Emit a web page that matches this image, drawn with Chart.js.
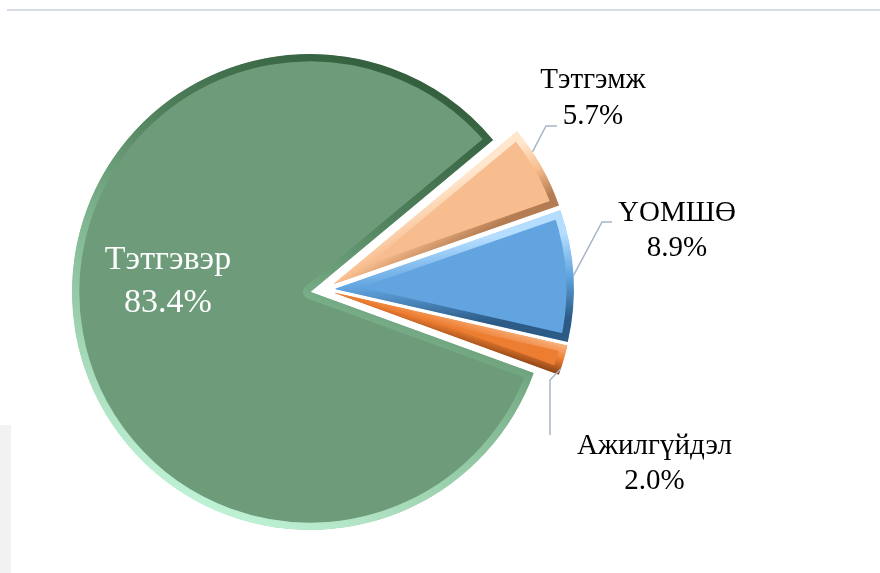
<!DOCTYPE html>
<html>
<head>
<meta charset="utf-8">
<script src="https://cdn.jsdelivr.net/npm/chart.js@4.4.1/dist/chart.umd.min.js"></script>
<style>
    html, body { margin: 0; padding: 0; background: #fff; overflow: hidden; }
    #wrap { position: relative; width: 880px; height: 573px; }
    .top-rule { position: absolute; left: 7px; right: 0; top: 9px; height: 2px; background: #d8dde6; }
    .side-box { position: absolute; left: 0; top: 425px; width: 11px; bottom: 0; background: #f2f2f2; }
    canvas { position: absolute; left: 0; top: 0; }
</style>
</head>
<body>
<div id="wrap">
    <div class="top-rule"></div>
    <div class="side-box"></div>
    <canvas id="pieChart" width="880" height="573"></canvas>
</div>
<script>
// Chart data
const categories = ['Тэтгэвэр', 'Тэтгэмж', 'ҮОМШӨ', 'Ажилгүйдэл'];
const shares = [83.4, 5.7, 8.9, 2.0];

// Look
const fillColors = ['#6e9c7b', '#f8bd8e', '#61a4df', '#ed7d31'];
const bevelColors = [
    ['#2f5a39', '#c6f8dc'],
    ['#ffe6cc', '#b47c52'],
    ['#b4ddff', '#2c5b86'],
    ['#f8b07a', '#8f4516']
];
const exploded = [false, true, true, true];
const ROTATION = 110;
const RADIUS = 238;
const GROUP_SHIFT = 14;
const SLICE_SHIFT = 12;
const SERIF = "'Liberation Serif', 'DejaVu Serif', 'Times New Roman', serif";

// Label placement: block centre relative to pie centre, leader points relative to block centre
const labelStyle = [
    { dx: -142, dy: -10, size: 34, lh: 43, color: '#ffffff', leader: null },
    { dx: 283, dy: -194, size: 29, lh: 36, color: '#000000', at: 0.3, leader: [[-47, 28], [-36, 28]] },
    { dx: 367, dy: -61.5, size: 29, lh: 35, color: '#000000', at: 0.5, leader: [[-75, -8.5], [-65, -8.5]] },
    { dx: 344.5, dy: 171.5, size: 29, lh: 35, color: '#000000', at: 0.8, leader: [[-104.5, -83.5], [-104.5, -28.5]] }
];

const total = shares.reduce((a, b) => a + b, 0);

// angles (canvas radians) of each slice, same as Chart.js computes them
function sliceAngles(i) {
    let start = (ROTATION - 90) * Math.PI / 180;
    for (let k = 0; k < i; k++) start += shares[k] / total * Math.PI * 2;
    return { start, end: start + shares[i] / total * Math.PI * 2 };
}

function bevel(context) {
    const area = context.chart.chartArea;
    if (!area) return fillColors[context.dataIndex];
    const i = context.dataIndex;
    const cx = (area.left + area.right) / 2;
    const cy = (area.top + area.bottom) / 2;
    const g = context.chart.ctx;
    const [c0, c1] = bevelColors[i];
    let grad;
    if (i === 0) {
        grad = g.createLinearGradient(cx + 0.45 * RADIUS, cy - RADIUS, cx - 0.45 * RADIUS, cy + RADIUS);
        grad.addColorStop(0, c0);
        grad.addColorStop(0.3, '#4f7f5b');
        grad.addColorStop(0.55, '#7fb690');
        grad.addColorStop(1, c1);
    } else {
        const { start, end } = sliceAngles(i);
        const mid = (start + end) / 2;
        const px = cx + Math.cos(mid) * RADIUS * 0.55;
        const py = cy + Math.sin(mid) * RADIUS * 0.55;
        const w = RADIUS * 0.55 * Math.sin((end - start) / 2) + 6;
        const nx = -Math.sin(mid), ny = Math.cos(mid);
        grad = g.createLinearGradient(px - nx * w, py - ny * w, px + nx * w, py + ny * w);
        grad.addColorStop(0, c0);
        grad.addColorStop(0.5, fillColors[i]);
        grad.addColorStop(1, c1);
    }
    return grad;
}

// Shift of each slice: whole group of small slices pulled out, plus a little on each one
function sliceShift(arc, i, groupMid) {
    if (!exploded[i]) return { x: 0, y: 0 };
    const mid = (arc.startAngle + arc.endAngle) / 2;
    return {
        x: Math.cos(groupMid) * GROUP_SHIFT + Math.cos(mid) * SLICE_SHIFT,
        y: Math.sin(groupMid) * GROUP_SHIFT + Math.sin(mid) * SLICE_SHIFT
    };
}

const explodePlugin = {
    id: 'explode',
    beforeDatasetDraw(chart, args) {
        const arcs = args.meta.data;
        const group = arcs.filter((a, i) => exploded[i]);
        const groupMid = (group[0].startAngle + group[group.length - 1].endAngle) / 2;
        const ctx = chart.ctx;
        arcs.forEach((arc, i) => {
            arc.$shift = sliceShift(arc, i, groupMid);
            ctx.save();
            ctx.translate(arc.$shift.x, arc.$shift.y);
            arc.draw(ctx, chart.chartArea);
            ctx.restore();
        });
        return false;
    }
};

const labelPlugin = {
    id: 'sliceLabels',
    afterDatasetsDraw(chart) {
        const ctx = chart.ctx;
        const arcs = chart.getDatasetMeta(0).data;
        arcs.forEach((arc, i) => {
            const st = labelStyle[i];
            const shift = arc.$shift || { x: 0, y: 0 };
            const tx = arc.x + st.dx;
            const ty = arc.y + st.dy;

            if (st.leader) {
                const a = arc.startAngle + (arc.endAngle - arc.startAngle) * st.at;
                const sx = arc.x + shift.x + Math.cos(a) * arc.outerRadius;
                const sy = arc.y + shift.y + Math.sin(a) * arc.outerRadius;
                ctx.save();
                ctx.strokeStyle = '#a7b5c8';
                ctx.lineWidth = 1.5;
                ctx.beginPath();
                ctx.moveTo(sx, sy);
                st.leader.forEach(([lx, ly]) => ctx.lineTo(tx + lx, ty + ly));
                ctx.stroke();
                ctx.restore();
            }

            ctx.save();
            ctx.fillStyle = st.color;
            ctx.font = `${st.size}px ${SERIF}`;
            ctx.textAlign = 'center';
            ctx.textBaseline = 'middle';
            ctx.fillText(categories[i], tx, ty - st.lh / 2);
            ctx.fillText(shares[i].toFixed(1) + '%', tx, ty + st.lh / 2);
            ctx.restore();
        });
    }
};

const pieCtx = document.getElementById('pieChart').getContext('2d');
new Chart(pieCtx, {
    type: 'pie',
    data: {
        labels: categories,
        datasets: [{
            data: shares,
            backgroundColor: fillColors,
            borderColor: bevel,
            borderWidth: 7,
            borderAlign: 'inner',
            radius: RADIUS,
            rotation: ROTATION,
            hoverOffset: 0
        }]
    },
    options: {
        responsive: false,
        animation: false,
        events: [],
        layout: {
            padding: { left: 0, right: 260, top: 11, bottom: 0 }
        },
        plugins: {
            legend: { display: false },
            tooltip: { enabled: false }
        }
    },
    plugins: [explodePlugin, labelPlugin]
});
</script>
</body>
</html>
